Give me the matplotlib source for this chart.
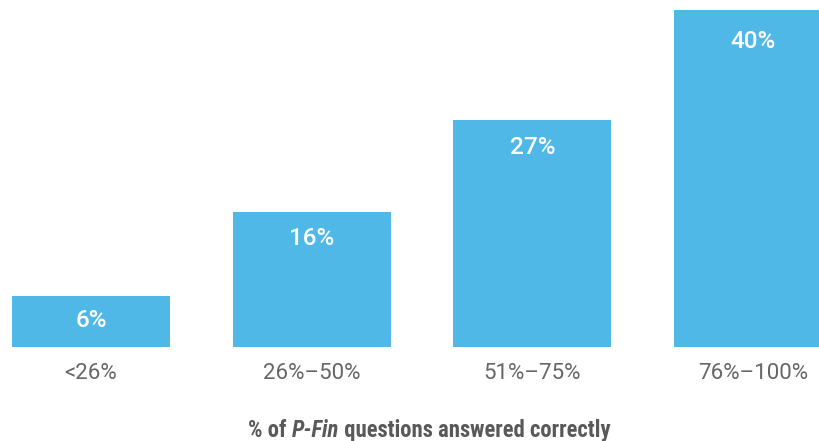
import matplotlib
matplotlib.use("Agg")
import matplotlib.pyplot as plt
from matplotlib import font_manager

categories = ["<26%", "26%\u201350%", "51%\u201375%", "76%\u2013100%"]
values = [6, 16, 27, 40]
value_labels = ["6%", "16%", "27%", "40%"]

avail = {f.name for f in font_manager.fontManager.ttflist}


def pick(cands):
    for c in cands:
        if c in avail:
            return c
    return "DejaVu Sans"


body = pick(["Roboto", "Liberation Sans"])
cond = pick(["Roboto Condensed", "Open Sans Condensed", "IBM Plex Sans Condensed",
             "Archivo Narrow", "Liberation Sans Narrow", "Roboto"])
fam = [body, "DejaVu Sans"]
famc = [cond, "DejaVu Sans"]

BAR = "#4FB8E7"
GRAY = "#666666"

fig = plt.figure(figsize=(8.2, 4.41), dpi=100)
ax = fig.add_axes([0, 1 - 347 / 441, 1, 347 / 441])
x = list(range(len(categories)))
bars = ax.bar(x, values, width=0.715, color=BAR, zorder=2)
ax.set_xlim(-0.412, 3.303)
ax.set_ylim(0, 41.2)
for s in ax.spines.values():
    s.set_visible(False)
ax.set_yticks([])
ax.set_xticks(x)
ax.set_xticklabels(categories, fontsize=16, color=GRAY, family=fam)
ax.tick_params(axis="x", length=0, pad=11.5)

for b, v, lab in zip(bars, values, value_labels):
    off_px = 23 + 0.2 * v
    ax.annotate(lab, xy=(b.get_x() + b.get_width() / 2, b.get_height()),
                xytext=(0, -off_px * 72 / 100), textcoords="offset points",
                ha="center", va="center", color="white", fontsize=17.5,
                fontweight="medium", family=fam)

# x-axis title with mixed styles
TC = "#595959"
FS = 16.3
t1 = fig.text(248 / 820, 4 / 441, "% of ", fontsize=FS, fontweight="bold",
              color=TC, family=famc, ha="left", va="baseline")
t2 = fig.text(0, 0, "P-Fin", fontsize=FS, fontweight="bold", style="italic",
              color=TC, family=famc)
t3 = fig.text(0, 0, " questions answered correctly", fontsize=FS, fontweight="bold",
              color=TC, family=famc)
fig.canvas.draw()
r = fig.canvas.get_renderer()
bb1 = t1.get_window_extent(r)
t2.set_position((bb1.x1 / fig.bbox.width, bb1.y0 / fig.bbox.height))
t2.set_ha("left"); t2.set_va("bottom")
fig.canvas.draw()
bb2 = t2.get_window_extent(r)
t3.set_position((bb2.x1 / fig.bbox.width, bb2.y0 / fig.bbox.height))
t3.set_ha("left"); t3.set_va("bottom")

fig.savefig("out.png", dpi=100)
